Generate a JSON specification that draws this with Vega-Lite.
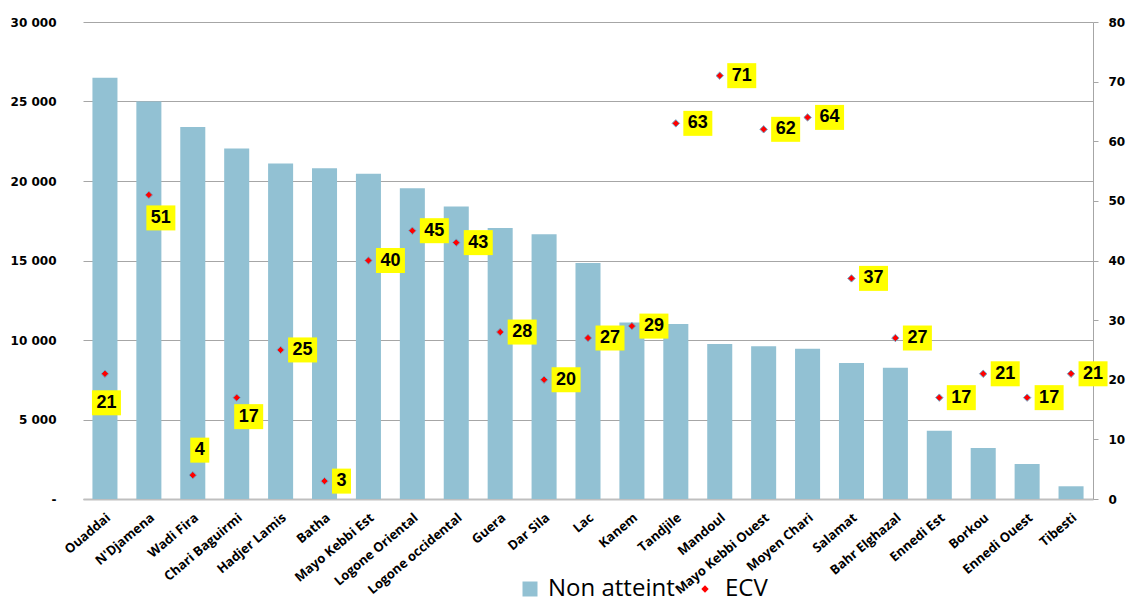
{
  "$schema": "https://vega.github.io/schema/vega-lite/v6.json",
  "width": 1010,
  "height": 477,
  "autosize": {"type": "none"},
  "padding": {"left": 83, "top": 22, "right": 36, "bottom": 106},
  "background": "white",
  "config": {"view": {"stroke": null}, "font": "DejaVu Sans"},
  "data": {
    "values": [
      {"region": "Ouaddai", "non_atteint": 26500, "ecv": 21},
      {"region": "N'Djamena", "non_atteint": 25000, "ecv": 51},
      {"region": "Wadi Fira", "non_atteint": 23400, "ecv": 4},
      {"region": "Chari Baguirmi", "non_atteint": 22050, "ecv": 17},
      {"region": "Hadjer Lamis", "non_atteint": 21100, "ecv": 25},
      {"region": "Batha", "non_atteint": 20800, "ecv": 3},
      {"region": "Mayo Kebbi Est", "non_atteint": 20450, "ecv": 40},
      {"region": "Logone Oriental", "non_atteint": 19550, "ecv": 45},
      {"region": "Logone occidental", "non_atteint": 18400, "ecv": 43},
      {"region": "Guera", "non_atteint": 17050, "ecv": 28},
      {"region": "Dar Sila", "non_atteint": 16650, "ecv": 20},
      {"region": "Lac", "non_atteint": 14850, "ecv": 27},
      {"region": "Kanem", "non_atteint": 11100, "ecv": 29},
      {"region": "Tandjile", "non_atteint": 11000, "ecv": 63},
      {"region": "Mandoul", "non_atteint": 9750, "ecv": 71},
      {"region": "Mayo Kebbi Ouest", "non_atteint": 9600, "ecv": 62},
      {"region": "Moyen Chari", "non_atteint": 9450, "ecv": 64},
      {"region": "Salamat", "non_atteint": 8550, "ecv": 37},
      {"region": "Bahr Elghazal", "non_atteint": 8250, "ecv": 27},
      {"region": "Ennedi Est", "non_atteint": 4300, "ecv": 17},
      {"region": "Borkou", "non_atteint": 3200, "ecv": 21},
      {"region": "Ennedi Ouest", "non_atteint": 2200, "ecv": 17},
      {"region": "Tibesti", "non_atteint": 800, "ecv": 21}
    ]
  },
  "layer": [
    {
      "mark": {"type": "bar"},
      "encoding": {
        "x": {
          "field": "region", "type": "nominal", "sort": null,
          "scale": {"paddingInner": 0.43, "paddingOuter": 0.215},
          "axis": {
            "title": null, "labelAngle": -40, "labelAlign": "right", "labelBaseline": "top",
            "labelPadding": 12, "ticks": false,
            "domainColor": "#bfbfbf", "domainWidth": 2,
            "labelFont": "Open Sans", "labelFontWeight": "bold", "labelFontSize": 13,
            "labelColor": "#000000", "labelLimit": 0
          }
        },
        "y": {
          "field": "non_atteint", "type": "quantitative",
          "scale": {"domain": [0, 30000]},
          "axis": {
            "title": null, "values": [0, 5000, 10000, 15000, 20000, 25000, 30000],
            "labelExpr": "datum.value === 0 ? '-\u00a0\u00a0' : replace(format(datum.value, ','), ',', ' ')",
            "domain": false, "ticks": false, "labelPadding": 27,
            "grid": true, "gridColor": "#a6a6a6", "gridWidth": 1,
            "labelFont": "DejaVu Sans", "labelFontWeight": "bold", "labelFontSize": 12,
            "labelColor": "#000000"
          }
        },
        "color": {
          "datum": "Non atteint", "type": "nominal",
          "scale": {"domain": ["Non atteint"], "range": ["#92c1d3"]},
          "legend": {
            "title": null, "orient": "none", "legendX": 435, "legendY": 555,
            "direction": "horizontal", "padding": 0, "symbolType": "square",
            "labelFont": "Open Sans", "labelFontSize": 24, "labelColor": "#000000",
            "symbolSize": 225, "labelOffset": 6
          }
        }
      }
    },
    {
      "encoding": {
        "x": {"field": "region", "type": "nominal", "sort": null},
        "y": {
          "field": "ecv", "type": "quantitative",
          "scale": {"domain": [0, 80]},
          "axis": {
            "orient": "right", "title": null, "values": [0, 10, 20, 30, 40, 50, 60, 70, 80],
            "grid": false, "domainColor": "#a6a6a6", "tickColor": "#a6a6a6", "tickSize": 5,
            "labelPadding": 10, "labelFont": "DejaVu Sans", "labelFontWeight": "bold",
            "labelFontSize": 12, "labelColor": "#000000"
          }
        }
      },
      "layer": [
        {
          "mark": {"type": "point", "filled": true, "size": 55, "color": "#ff0000", "fill": "#ff0000", "stroke": "#6fa8c8", "strokeWidth": 1, "opacity": 1},
          "encoding": {
            "shape": {
              "datum": "ECV", "type": "nominal",
              "scale": {"domain": ["ECV"], "range": ["diamond"]},
              "legend": {
                "title": null, "orient": "none", "legendX": 610, "legendY": 555,
                "direction": "horizontal", "padding": 0,
                "labelFont": "Open Sans", "labelFontSize": 24, "labelColor": "#000000",
                "symbolSize": 55, "labelOffset": 8,
                "symbolFillColor": "#ff0000", "symbolStrokeColor": "#6fa8c8", "symbolStrokeWidth": 1
              }
            }
          }
        },
        {
          "transform": [{"filter": {"not": {"field": "region", "oneOf": ["Ouaddai", "N'Djamena", "Wadi Fira", "Chari Baguirmi", "Batha"]}}}],
          "mark": {"type": "point", "shape": "M7.5,-12.5H36.5V12.5H7.5Z", "size": 4, "filled": true, "fill": "#ffff00", "strokeWidth": 0, "opacity": 1}
        },
        {
          "transform": [{"filter": {"not": {"field": "region", "oneOf": ["Ouaddai", "N'Djamena", "Wadi Fira", "Chari Baguirmi", "Batha"]}}}],
          "mark": {"type": "text", "dx": 22, "font": "Liberation Sans", "fontWeight": "bold", "fontSize": 18, "color": "#000000", "align": "center", "baseline": "middle"},
          "encoding": {"text": {"field": "ecv", "type": "quantitative"}}
        },
        {
          "transform": [{"filter": {"field": "region", "equal": "Ouaddai"}}],
          "mark": {"type": "point", "shape": "M-13,16.5H16V41.5H-13Z", "size": 4, "filled": true, "fill": "#ffff00", "strokeWidth": 0, "opacity": 1}
        },
        {
          "transform": [{"filter": {"field": "region", "equal": "Ouaddai"}}],
          "mark": {"type": "text", "dx": 1.5, "dy": 29, "font": "Liberation Sans", "fontWeight": "bold", "fontSize": 18, "color": "#000000", "align": "center", "baseline": "middle"},
          "encoding": {"text": {"field": "ecv", "type": "quantitative"}}
        },
        {
          "transform": [{"filter": {"field": "region", "equal": "N'Djamena"}}],
          "mark": {"type": "point", "shape": "M-2.5,10.5H26.5V35.5H-2.5Z", "size": 4, "filled": true, "fill": "#ffff00", "strokeWidth": 0, "opacity": 1}
        },
        {
          "transform": [{"filter": {"field": "region", "equal": "N'Djamena"}}],
          "mark": {"type": "text", "dx": 12, "dy": 23, "font": "Liberation Sans", "fontWeight": "bold", "fontSize": 18, "color": "#000000", "align": "center", "baseline": "middle"},
          "encoding": {"text": {"field": "ecv", "type": "quantitative"}}
        },
        {
          "transform": [{"filter": {"field": "region", "equal": "Chari Baguirmi"}}],
          "mark": {"type": "point", "shape": "M-2.5,6.5H26.5V31.5H-2.5Z", "size": 4, "filled": true, "fill": "#ffff00", "strokeWidth": 0, "opacity": 1}
        },
        {
          "transform": [{"filter": {"field": "region", "equal": "Chari Baguirmi"}}],
          "mark": {"type": "text", "dx": 12, "dy": 19, "font": "Liberation Sans", "fontWeight": "bold", "fontSize": 18, "color": "#000000", "align": "center", "baseline": "middle"},
          "encoding": {"text": {"field": "ecv", "type": "quantitative"}}
        },
        {
          "transform": [{"filter": {"field": "region", "equal": "Wadi Fira"}}],
          "mark": {"type": "point", "shape": "M-2.5,-37.5H16.5V-12.5H-2.5Z", "size": 4, "filled": true, "fill": "#ffff00", "strokeWidth": 0, "opacity": 1}
        },
        {
          "transform": [{"filter": {"field": "region", "equal": "Wadi Fira"}}],
          "mark": {"type": "text", "dx": 7, "dy": -25, "font": "Liberation Sans", "fontWeight": "bold", "fontSize": 18, "color": "#000000", "align": "center", "baseline": "middle"},
          "encoding": {"text": {"field": "ecv", "type": "quantitative"}}
        },
        {
          "transform": [{"filter": {"field": "region", "equal": "Batha"}}],
          "mark": {"type": "point", "shape": "M7.5,-12.5H26.5V12.5H7.5Z", "size": 4, "filled": true, "fill": "#ffff00", "strokeWidth": 0, "opacity": 1}
        },
        {
          "transform": [{"filter": {"field": "region", "equal": "Batha"}}],
          "mark": {"type": "text", "dx": 17, "font": "Liberation Sans", "fontWeight": "bold", "fontSize": 18, "color": "#000000", "align": "center", "baseline": "middle"},
          "encoding": {"text": {"field": "ecv", "type": "quantitative"}}
        }
      ]
    }
  ],
  "resolve": {"scale": {"y": "independent"}}
}
